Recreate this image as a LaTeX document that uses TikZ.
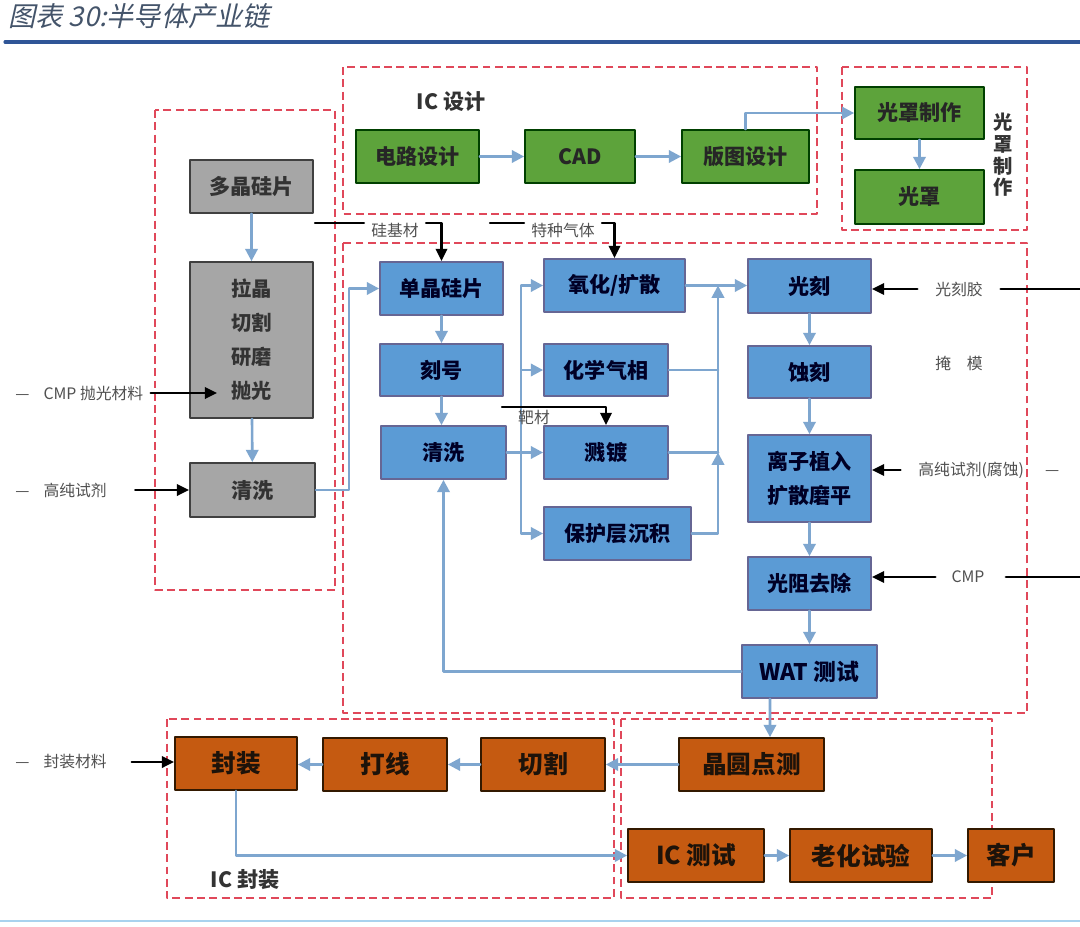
\documentclass[tikz,border=0pt]{standalone}
\usepackage{fontspec}
\setmainfont{Noto Sans CJK SC}
\newfontfamily\titlefont{Noto Sans CJK SC}[FakeSlant=0.22]
\usepackage{xcolor}
\usepackage{tikz}
\usetikzlibrary{arrows.meta,calc,positioning}
\definecolor{zonered}{HTML}{E0485A}
\definecolor{flowblue}{HTML}{7EA6CF}
\definecolor{designgreen}{HTML}{5DA33B}
\definecolor{wafergray}{HTML}{A6A6A6}
\definecolor{fabblue}{HTML}{5B9BD5}
\definecolor{packorange}{HTML}{C55A11}
\definecolor{notegray}{HTML}{505050}
\definecolor{titleblue}{HTML}{44546A}
\definecolor{rulenavy}{HTML}{2F5597}
\definecolor{rulelight}{HTML}{A9D2EE}
\tikzset{
  box/.style={draw, line width=1pt, minimum width=2.46cm, minimum height=1.06cm,
    inner sep=1pt, align=center, font=\bfseries\fontsize{12}{19.3}\selectfont},
  gbox/.style={box, fill=designgreen, draw=black!75!green, text=black!85},
  sbox/.style={box, fill=wafergray, draw=black!75, text=black!80},
  fbox/.style={box, fill=fabblue, draw=black!70!blue!60, text=black!85!blue},
  pbox/.style={box, fill=packorange, draw=black!80!orange, text=black!85!brown,
    font=\bfseries\fontsize{14}{17}\selectfont},
  flow/.style={draw=flowblue, line width=1.5pt, -{Triangle[length=7pt,width=7pt]}},
  pipe/.style={draw=flowblue, line width=1.5pt},
  feed/.style={draw=black, line width=1.4pt, -{Triangle[length=7pt,width=6.5pt]}},
  feedline/.style={draw=black, line width=1.4pt},
  note/.style={inner xsep=4pt, inner ysep=1pt, text=notegray, font=\fontsize{9}{11}\selectfont},
  tag/.style={text=black!80, font=\bfseries\fontsize{12}{14}\selectfont},
  zone/.style={draw=zonered, line width=1.4pt, line cap=butt, dash pattern=on 4.5pt off 2.5pt},
  every picture/.style={line cap=round, line join=round}
}

\begin{document}
\begin{tikzpicture}[x=0.02cm, y=-0.02cm]
  \useasboundingbox (0,0) rectangle (1080,927);
  \fill[white] (0,0) rectangle (1080,927);

  % Title and rules
  \node[anchor=west, inner sep=0pt, text=titleblue, font=\titlefont\fontsize{15.5}{18}\selectfont] (title) at (8,16) {图表 30:半导体产业链};
  \draw[rulenavy, line width=1.8pt] (5,42) -- (1080,42);
  \draw[rulelight, line width=1.2pt] (0,921) -- (1080,921);

  % Dashed zones
  \draw[zone] (343,67) rectangle (817,214);
  \draw[zone] (842,67) rectangle (1027,230);
  \draw[zone] (155,110) rectangle (335,590);
  \draw[zone] (343,243) rectangle (1027,713);
  \draw[zone] (167,719) rectangle (614,898);
  \draw[zone] (621,719) rectangle (992,898);

  % IC design
  \node[gbox] (circ) at (417.5,156.5) {电路设计};
  \node[gbox, minimum width=2.2cm] (cad) at (580,156.5) {CAD};
  \node[gbox, minimum width=2.54cm] (layout) at (745.5,156.5) {版图设计};
  \node[gbox, minimum width=2.58cm, minimum height=1.04cm] (maskmk) at (919.5,113) {光罩制作};
  \node[gbox, minimum width=2.58cm, minimum height=1.08cm] (mask) at (919.5,197) {光罩};
  \node[tag] (dsgl) at (451,102) {IC 设计};
  \node[tag, align=center, font=\bfseries\fontsize{11}{12.3}\selectfont] (maskl) at (1003,155) {光\\罩\\制\\作};

  \draw[flow] (circ) -- (cad);
  \draw[flow] (cad) -- (layout);
  \draw[flow] (layout.north) |- (maskmk.west);
  \draw[flow] (maskmk) -- (mask);

  % Wafer
  \node[sbox] (poly) at (251.5,186.5) {多晶硅片};
  \node[sbox, minimum height=3.12cm, font=\bfseries\fontsize{11.5}{19.3}\selectfont] (grow) at (251.5,340) {拉晶\\切割\\研磨\\抛光};
  \node[sbox, minimum width=2.5cm, minimum height=1.08cm] (wash1) at (252.5,490) {清洗};

  \draw[flow] (poly) -- (grow);
  \draw[flow] (grow) -- (wash1);

  \node[note, anchor=west] (cmpin) at (8,393) {—\hspace{8pt}CMP 抛光材料};
  \node[note, anchor=west] (hpin) at (8,490) {—\hspace{8pt}高纯试剂};
  \draw[feed] (cmpin.east) -- ($(grow.west |- cmpin.east)+(28,0)$);
  \draw[feed] ([xshift=12pt]hpin.east) -- (wash1.west);

  % Fab
  \node[fbox] (mono) at (441.5,288.5) {单晶硅片};
  \node[fbox, minimum height=1.04cm] (mark) at (441.5,370) {刻号};
  \node[fbox, minimum width=2.5cm] (wash2) at (443.5,452.5) {清洗};
  \node[fbox, minimum width=2.82cm] (oxid) at (614.5,285.5) {氧化/扩散};
  \node[fbox, minimum width=2.48cm, minimum height=1.04cm] (cvd) at (606,370) {化学气相};
  \node[fbox, minimum width=2.48cm] (sput) at (606,452.5) {溅镀};
  \node[fbox, minimum width=2.94cm] (prot) at (617.5,533.5) {保护层沉积};
  \node[fbox, minimum height=1.08cm] (litho) at (809.5,286) {光刻};
  \node[fbox, minimum height=1.04cm] (etch) at (809.5,372) {蚀刻};
  \node[fbox, minimum height=1.74cm] (ion) at (809.5,478.5) {离子植入\\扩散磨平};
  \node[fbox] (strip) at (809.5,583.5) {光阻去除};
  \node[fbox, minimum width=2.7cm, font=\bfseries\fontsize{13}{15}\selectfont] (wat) at (809.5,671.5) {WAT 测试};

  \draw[flow] (wash1.east) -- ++(33,0) |- (mono.west);
  \draw[flow] (mono) -- (mark);
  \draw[flow] (mark.south) -- (mark.south |- wash2.north);
  \draw[flow] (wash2) -- (sput);
  \coordinate (split) at (521,452.5);
  \draw[flow] (split) |- (oxid.west);
  \draw[flow] (split) |- (cvd.west);
  \draw[flow] (split) |- (prot.west);
  \coordinate (merge) at (718,533.5);
  \draw[flow] (oxid.east) -- (oxid.east -| litho.west);
  \draw[pipe] (cvd.east) -- (cvd.east -| merge);
  \draw[pipe] (sput.east) -- (sput.east -| merge);
  \draw[flow] (prot.east) -- (merge) -- (merge |- sput.east);
  \draw[flow] (merge |- sput.east) -- (merge |- oxid.east);
  \draw[flow] (litho) -- (etch);
  \draw[flow] (etch) -- (ion);
  \draw[flow] (ion) -- (strip);
  \draw[flow] (strip) -- (wat);
  \draw[flow] (wat.west) -| (wash2.south);

  % Material inputs
  \node[note] (sil) at (395,230) {硅基材};
  \node[note] (gas) at (563,230) {特种气体};
  \node[note] (tgt) at (534,417) {靶材};
  \coordinate (silL) at (315,223);
  \coordinate (gasL) at (490,223);
  \coordinate (tgtL) at (502,407);
  \draw[feedline] (silL) -- (silL -| sil.west);
  \draw[feed] (silL -| sil.east) -| (mono.north);
  \draw[feedline] (gasL) -- (gasL -| gas.west);
  \draw[feed] (gasL -| gas.east) -| (oxid.north);
  \draw[feed] (tgtL) -| (sput.north);

  \node[note] (resist) at (959,289) {光刻胶};
  \node[note] (maskin) at (959,363) {掩\quad 模};
  \node[note, anchor=west] (etchant) at (911,470) {高纯试剂(腐蚀)\hspace{12pt}—};
  \node[note] (cmp) at (968,577) {CMP};
  \coordinate (resR) at (1080,289);
  \coordinate (cmpR) at (1080,577);
  \draw[feed] ([xshift=-6pt]resist.west) -- (resist.west -| litho.east);
  \draw[feedline] ([xshift=6pt]resist.east) -- (resR);
  \draw[feed] ([xshift=-6pt]etchant.west) -- (etchant.west -| ion.east);
  \draw[feed] ([xshift=-5pt]cmp.west) -- (cmp.west -| strip.east);
  \draw[feedline] ([xshift=8pt]cmp.east) -- (cmpR);

  % Packaging and test
  \node[pbox, minimum width=2.44cm] (pack) at (236,763.5) {封装};
  \node[pbox, minimum width=2.48cm] (bond) at (385,764.5) {打线};
  \node[pbox, minimum width=2.48cm] (dice) at (543,764.5) {切割};
  \node[pbox, minimum width=2.9cm] (probe) at (751.5,764.5) {晶圆点测};
  \node[pbox, minimum width=2.72cm] (ictest) at (696,855.5) {IC 测试};
  \node[pbox, minimum width=2.84cm] (burn) at (861,855.5) {老化试验};
  \node[pbox, minimum width=1.72cm] (cust) at (1011,855.5) {客户};
  \node[tag] (pkgl) at (245,880) {IC 封装};
  \node[note, anchor=west] (pkin) at (8,762) {—\hspace{8pt}封装材料};

  \draw[flow] ($(wat.south)+(-39.5,0)$) -- ($(probe.north)+(18.5,0)$);
  \draw[flow] (probe) -- (dice);
  \draw[flow] (dice) -- (bond);
  \draw[flow] (bond.west) -- (bond.west -| pack.east);
  \draw[flow] (pack.south) |- (ictest.west);
  \draw[flow] (ictest) -- (burn);
  \draw[flow] (burn) -- (cust);
  \draw[feed] ([xshift=10pt]pkin.east) -- (pkin.east -| pack.west);
\end{tikzpicture}
\end{document}
